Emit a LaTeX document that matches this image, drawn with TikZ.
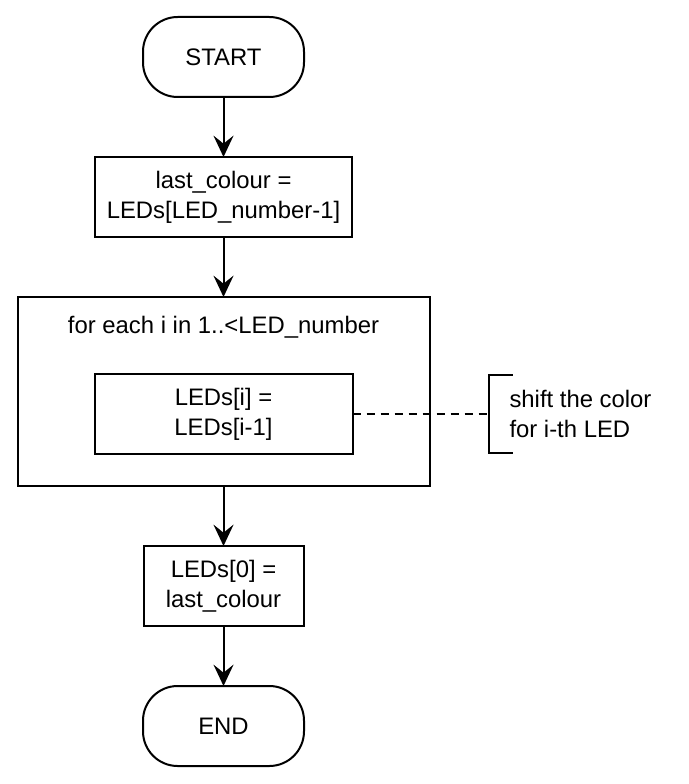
\documentclass[tikz,border=0pt]{standalone}
\usepackage{fontspec}
\setmainfont{Liberation Sans}
\usetikzlibrary{arrows.meta, positioning}

\begin{document}
\begin{tikzpicture}[x=0.75pt,y=-0.75pt,node distance=45pt,>={Stealth[length=16pt,width=15pt,inset=6pt]},line width=1.5pt,
	font=\fontsize{17.9pt}{22.4pt}\selectfont,
	terminal/.style={draw, rounded corners=26pt, minimum width=120.75pt, minimum height=60pt, inner sep=0pt, outer sep=0pt},
	process/.style={draw, align=center, minimum height=60pt, inner sep=0pt, outer sep=0pt},
	loopbox/.style={draw, minimum width=309pt, minimum height=141.75pt, inner sep=0pt, outer sep=0pt}]
		
		\useasboundingbox (0,0) rectangle (688,784);
		
		\node (start) [terminal] at (223.5,57) {START};
		\node (last) [process, minimum width=192.75pt, below=of start] {last\_colour =\\LEDs[LED\_number-1]};
		\node (loop) [loopbox, below=of last] {};
		\node (looptitle) [anchor=base] at ([yshift=-27pt]loop.north) {for each i in 1..<LED\_number};
		\node (shift) [process, minimum width=193.5pt, below=57.75pt of loop.north] {LEDs[i] =\\LEDs[i-1]};
		\node (first) [process, minimum width=120pt, below=of loop] {LEDs[0] =\\last\_colour};
		\node (end) [terminal, below=of first] {END};
		
		\coordinate (brk) at ([xshift=102pt]shift.east);
		\node (note) [anchor=west, align=left, inner sep=0pt] at ([xshift=15pt]brk) {shift the color\\for i-th LED};
		
		\path [->]
		(start) edge (last)
		(last) edge (loop)
		(loop) edge (first)
		(first) edge (end);
		
		\draw [dash pattern=on 6pt off 4.5pt] (shift) -- (brk);
		\draw ([xshift=18pt,yshift=29.6pt]brk) -| ([yshift=-29.6pt]brk) -- ++(18pt,0);
	\end{tikzpicture}
\end{document}
